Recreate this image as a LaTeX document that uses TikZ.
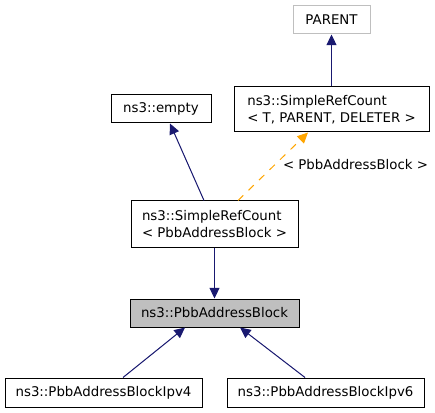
\documentclass[tikz,border=0pt]{standalone}
\usepackage{fontspec}
\setmainfont{DejaVu Sans}
\usetikzlibrary{arrows.meta,calc}
\definecolor{edgeblue}{HTML}{191970}
\definecolor{boxgray}{HTML}{BFBFBF}
\definecolor{dashorange}{HTML}{FFA500}
\begin{document}
\begin{tikzpicture}[x=0.75pt,y=-0.75pt,
  box/.style={draw=black, line width=0.75pt, inner sep=0pt, font=\fontsize{10}{13}\selectfont, align=left, text=black},
  inh/.style={draw=edgeblue, line width=0.75pt, -{Triangle[length=8pt,width=7.5pt]}, fill=edgeblue},
  tmpl/.style={draw=dashorange, line width=0.75pt, dash pattern=on 5.5pt off 5.5pt, -{Triangle[length=8pt,width=7.5pt,fill=dashorange]}},
  lbl/.style={font=\fontsize{10}{13}\selectfont, inner sep=0pt}]
\useasboundingbox (0,0) rectangle (435,413);
\node[box, draw=boxgray, minimum width=57.75pt, minimum height=21pt] (parent) at (331.5,20) {PARENT};
\node[box, minimum width=146.25pt, minimum height=33.75pt] (srcT) at (331.5,109.5) {ns3::SimpleRefCount\\< T, PARENT, DELETER >};
\node[box, minimum width=75pt, minimum height=21pt] (empty) at (161,109) {ns3::empty};
\node[box, minimum width=125.25pt, minimum height=34.5pt] (srcP) at (214.5,224) {ns3::SimpleRefCount\\< PbbAddressBlock >};
\node[box, fill=boxgray, minimum width=126.75pt, minimum height=21pt] (pbb) at (214.5,313) {ns3::PbbAddressBlock};
\node[box, minimum width=147.75pt, minimum height=21.75pt] (ipv4) at (103.5,392.5) {ns3::PbbAddressBlockIpv4};
\node[box, minimum width=147.75pt, minimum height=21.75pt] (ipv6) at (325.5,392.5) {ns3::PbbAddressBlockIpv6};
\node[lbl] (tlabel) at (355.5,165) {< PbbAddressBlock >};
\draw[inh] (srcT.north) -- (parent.south);
\draw[inh] ($(srcP.north)+(-10.5,0)$) -- ($(empty.south)+(9,0)$);
\draw[tmpl] ($(srcP.north)+(23.5,0)$) -- ($(srcT.south)+(-23.5,0)$);
\draw[inh] (srcP.south) -- (pbb.north);
\draw[inh] ($(ipv4.north)+(19.5,0)$) -- ($(pbb.south)+(-29.5,0)$);
\draw[inh] ($(ipv6.north)+(-20.5,0)$) -- ($(pbb.south)+(25.5,0)$);
\end{tikzpicture}
\end{document}
